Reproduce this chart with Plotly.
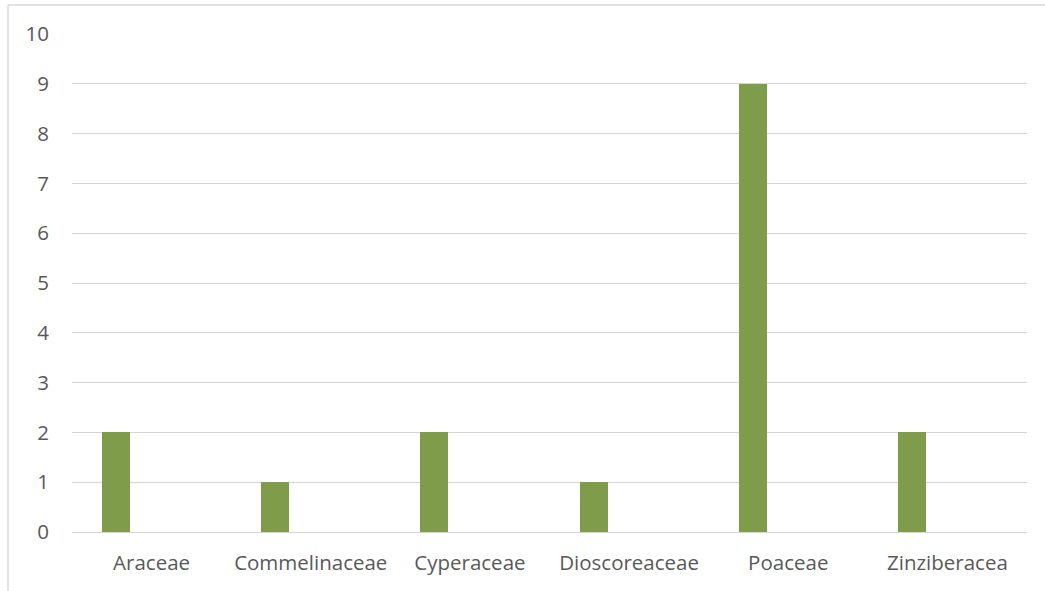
import plotly.graph_objects as go

categories = ["Araceae", "Commelinaceae", "Cyperaceae", "Dioscoreaceae", "Poaceae", "Zinziberacea"]
values = [2, 1, 2, 1, 9, 2]
y_ticks = list(range(0, 11))

fig = go.Figure()
fig.add_trace(go.Bar(
    x=categories, y=values,
    marker=dict(color="#7F9C4A", line=dict(width=0)),
    width=0.176, offset=-0.311,
))

W, H = 1045, 591
ml, mr, mt, mb = 72, 18, 34, 59
pw = W - ml - mr
ph = H - mt - mb

fig.update_layout(
    width=W, height=H,
    margin=dict(l=ml, r=mr, t=mt, b=mb),
    paper_bgcolor="white", plot_bgcolor="white",
    font=dict(family="Open Sans, sans-serif", size=20.5, color="#595959"),
    showlegend=False,
    bargap=0,
    xaxis=dict(showgrid=False, showline=True, linecolor="#D4D4D4", linewidth=1.3,
               ticks="", ticklabelstandoff=12, tickfont=dict(size=20.5)),
    yaxis=dict(range=[0, 10], tickvals=y_ticks, showgrid=True, gridcolor="#D4D4D4",
               gridwidth=1.3, zeroline=False, showline=False, ticks="",
               ticklabelstandoff=22, tickfont=dict(size=20.5)),
    shapes=[
        dict(type="line", xref="paper", yref="paper",
             x0=(8 - ml) / pw, x1=(W - ml) / pw,
             y0=(H - mb - 5) / ph, y1=(H - mb - 5) / ph,
             line=dict(color="#D9D9D9", width=1.5)),
        dict(type="line", xref="paper", yref="paper",
             x0=(8 - ml) / pw, x1=(8 - ml) / pw,
             y0=(H - mb - 5) / ph, y1=(-mb) / ph,
             line=dict(color="#D9D9D9", width=1.5)),
    ],
)

fig.write_html("out.html")
